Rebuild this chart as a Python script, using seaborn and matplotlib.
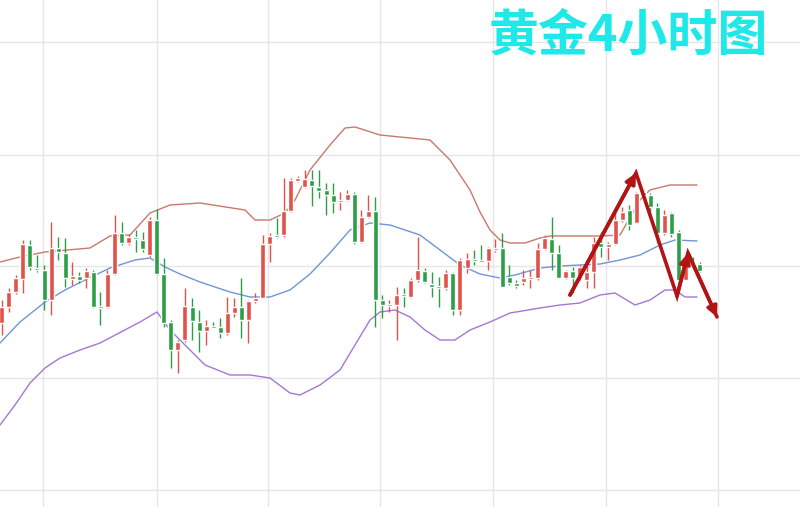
import numpy as np
import pandas as pd
import matplotlib
matplotlib.use('Agg')
import matplotlib.pyplot as plt
import seaborn as sns

# K线数据 (价格刻度向下增大, 与图面一致)
opens = [323, 307, 292, 279, 245, 268, 270, 300, 248, 253, 279, 276, 278, 272, 306, 307, 274, 233, 243, 237,
         240, 255, 220, 274, 322, 350, 340, 307, 322, 331, 326, 327, 333, 313, 307, 320, 301, 298, 244, 235,
         235, 211, 181, 187, 180, 187, 190, 195, 201, 200, 194, 242, 217, 211, 300, 305, 305, 294, 297, 280,
         271, 284, 286, 288, 273, 310, 268, 259, 260, 261, 249, 248, 277, 283, 282, 278, 278, 249, 239, 253,
         278, 271, 278, 280, 272, 243, 247, 244, 220, 210, 223, 192, 195, 207, 233, 213, 232, 280, 262, 264]
closes = [307, 292, 278, 244, 267, 270, 300, 248, 252, 278, 276, 280, 271, 307, 307, 274, 233, 243, 237, 239,
          249, 220, 274, 323, 350, 342, 306, 321, 331, 326, 327, 333, 313, 307, 320, 301, 298, 244, 236, 236,
          211, 180, 178, 179, 186, 191, 195, 202, 200, 194, 242, 217, 211, 300, 305, 304, 295, 296, 280, 270,
          282, 287, 287, 273, 310, 260, 259, 261, 261, 248, 248, 287, 283, 286, 278, 277, 249, 238, 253, 278,
          271, 278, 267, 272, 243, 247, 244, 220, 212, 225, 193, 195, 207, 233, 215, 234, 280, 263, 265, 271]
highs = [300, 288, 275, 240, 240, 255, 265, 222, 237, 238, 262, 272, 268, 270, 292, 270, 215, 222, 234, 230,
         232, 217, 209, 258, 320, 340, 288, 298, 310, 320, 322, 318, 297, 298, 278, 300, 293, 235, 233, 218,
         178, 178, 176, 170, 170, 170, 183, 183, 192, 190, 192, 210, 195, 197, 295, 300, 287, 288, 278, 237,
         268, 272, 277, 270, 272, 258, 253, 250, 245, 247, 239, 233, 265, 280, 270, 270, 243, 235, 217, 245,
         270, 267, 265, 260, 237, 232, 242, 210, 207, 205, 192, 190, 193, 203, 210, 212, 230, 260, 257, 262]
lows = [335, 312, 294, 293, 270, 272, 310, 315, 260, 287, 285, 283, 288, 308, 325, 308, 275, 245, 245, 252,
        252, 257, 275, 327, 368, 373, 342, 340, 352, 345, 328, 338, 335, 317, 338, 343, 303, 298, 262, 238,
        237, 212, 182, 188, 206, 198, 215, 213, 210, 201, 244, 243, 218, 327, 318, 312, 340, 307, 298, 282,
        283, 297, 307, 290, 315, 315, 273, 265, 262, 270, 252, 287, 285, 288, 285, 288, 280, 250, 270, 278,
        279, 293, 280, 288, 288, 257, 260, 245, 222, 230, 223, 197, 213, 243, 235, 237, 280, 280, 268, 272]

# 布林带 (x像素, 价格)
upper_x = [0, 20, 45, 90, 110, 130, 150, 170, 200, 245, 255, 270, 285, 295, 310, 330, 345, 355, 380, 410,
           430, 450, 470, 480, 490, 500, 510, 525, 540, 550, 600, 620, 640, 650, 670, 697]
upper_y = [262, 257, 252, 248, 236, 235, 213, 205, 203, 210, 220, 220, 213, 200, 170, 145, 128, 127, 135, 138,
           140, 160, 190, 212, 230, 240, 243, 243, 238, 236, 236, 235, 200, 190, 185, 185]
mid_x = [0, 20, 45, 65, 85, 110, 135, 150, 165, 180, 200, 230, 250, 270, 290, 310, 330, 350, 370, 390,
         420, 440, 460, 480, 500, 515, 540, 560, 600, 620, 640, 660, 675, 697]
mid_y = [343, 322, 302, 290, 280, 268, 260, 258, 267, 274, 282, 292, 297, 297, 290, 274, 253, 230, 223, 225,
         235, 250, 265, 274, 278, 275, 268, 266, 264, 260, 255, 245, 240, 241]
lower_x = [0, 15, 30, 45, 60, 80, 100, 140, 157, 170, 190, 205, 230, 250, 270, 290, 300, 320, 340, 355,
           370, 380, 395, 410, 425, 440, 455, 470, 490, 510, 540, 560, 580, 600, 615, 635, 650, 665, 675, 685, 697]
lower_y = [425, 405, 383, 368, 358, 350, 343, 322, 312, 330, 350, 365, 375, 375, 378, 393, 395, 385, 370, 345,
           320, 312, 310, 317, 330, 340, 340, 330, 322, 313, 308, 305, 303, 295, 293, 305, 300, 290, 290, 297, 297]

# 手绘趋势箭头
arrow_x = [570, 636, 677, 688, 717]
arrow_y = [295, 173, 296, 253, 317]

sns.set_style('white')
plt.rcParams['font.family'] = ['Noto Sans CJK SC', 'DejaVu Sans']

fig = plt.figure(figsize=(8, 5.07), dpi=100)
ax = fig.add_axes([0, 0, 1, 1])

for gx in [43, 157, 268, 380, 493, 606, 718]:
    ax.axvline(gx, color='#e6e6e6', lw=1, zorder=0)
for gy in [42, 155, 266, 378, 490]:
    ax.axhline(gy, color='#e6e6e6', lw=1, zorder=0)

df = pd.DataFrame({'o': opens, 'c': closes, 'h': highs, 'l': lows})
df['x'] = 1.7 + 7.05 * np.arange(len(df))
df['col'] = np.where(df['c'] <= df['o'], '#e0534a', '#2e9e46')

ax.vlines(df['x'], df['h'], df['l'], colors=df['col'], lw=1, zorder=3)
body_h = (df['o'] - df['c']).abs().clip(lower=1.5)
ax.bar(df['x'], body_h, bottom=df[['o', 'c']].min(axis=1), width=5, color=df['col'], zorder=4)

sns.lineplot(x=upper_x, y=upper_y, ax=ax, color='#c8796c', lw=1, sort=False, zorder=2)
sns.lineplot(x=mid_x, y=mid_y, ax=ax, color='#7294d8', lw=1, sort=False, zorder=2)
sns.lineplot(x=lower_x, y=lower_y, ax=ax, color='#a477d6', lw=1, sort=False, zorder=2)

red = '#b01414'
ax.plot(arrow_x, arrow_y, color=red, lw=2.6, solid_joinstyle='miter', zorder=6)
for i in (1, 3, 4):
    ax.annotate('', xy=(arrow_x[i], arrow_y[i]), xytext=(arrow_x[i - 1], arrow_y[i - 1]),
                arrowprops=dict(arrowstyle='-|>,head_length=0.6,head_width=0.3', color=red, lw=2.6,
                                shrinkA=0, shrinkB=0), zorder=6)

ax.text(628, 36, '黄金4小时图', color='#1ee8e8', fontsize=36, fontweight='bold',
        ha='center', va='center', zorder=7)

ax.set_xlim(0, 800)
ax.set_ylim(507, 0)
ax.axis('off')
fig.savefig('out.png', dpi=100)
